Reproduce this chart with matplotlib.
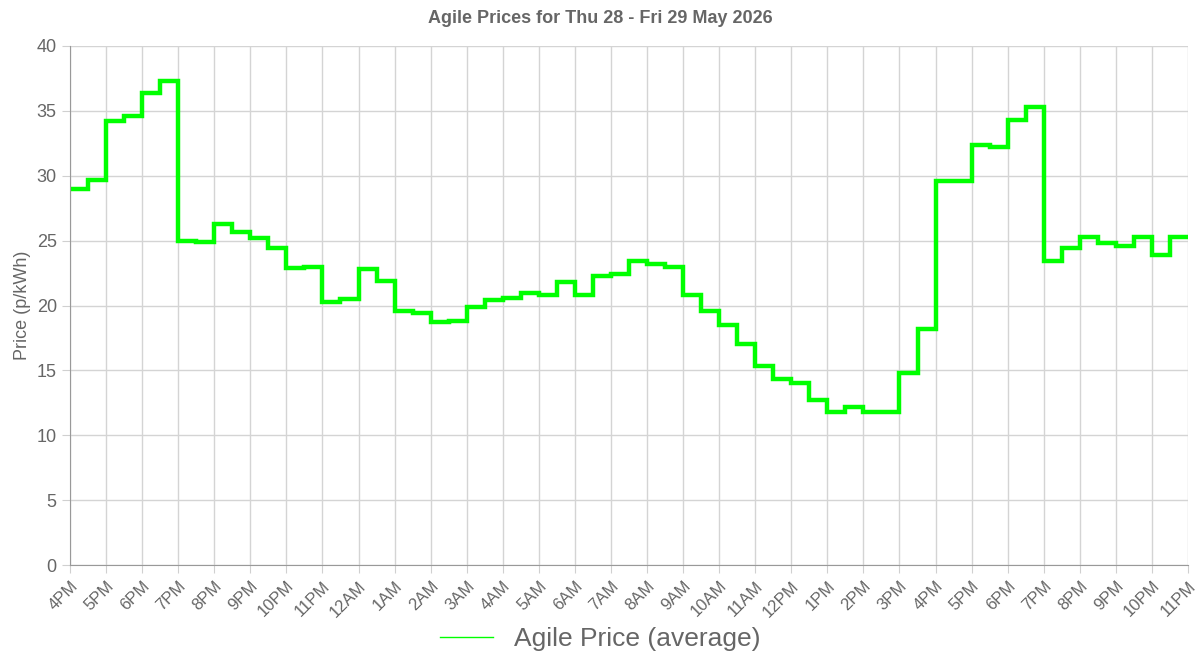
import matplotlib
matplotlib.use("Agg")
import matplotlib.pyplot as plt
import numpy as np

plt.rcParams['font.family'] = ['Liberation Sans', 'DejaVu Sans']

prices = [29.0, 29.7, 34.2, 34.6, 36.4, 37.3, 25.0, 24.9, 26.3, 25.7, 25.2, 24.4,
          22.9, 23.0, 20.3, 20.5, 22.8, 21.9, 19.6, 19.4, 18.7, 18.8, 19.9, 20.4,
          20.6, 21.0, 20.8, 21.8, 20.8, 22.3, 22.4, 23.4, 23.2, 23.0, 20.8, 19.6,
          18.5, 17.0, 15.3, 14.3, 14.0, 12.7, 11.8, 12.2, 11.8, 11.8, 14.8, 18.2,
          29.6, 29.6, 32.4, 32.2, 34.3, 35.3, 23.4, 24.4, 25.3, 24.8, 24.6, 25.3,
          23.9, 25.3]
tick_labels = ["4PM", "5PM", "6PM", "7PM", "8PM", "9PM", "10PM", "11PM", "12AM", "1AM",
               "2AM", "3AM", "4AM", "5AM", "6AM", "7AM", "8AM", "9AM", "10AM", "11AM",
               "12PM", "1PM", "2PM", "3PM", "4PM", "5PM", "6PM", "7PM", "8PM", "9PM",
               "10PM", "11PM"]

fig = plt.figure(figsize=(12, 6.67), dpi=100)
ax = fig.add_axes([70/1200, 1-565/667, (1188-70)/1200, (565-46)/667])
xs = np.arange(len(prices) + 1) * 0.5
ys = list(prices) + [prices[-1]]
ax.step(xs, ys, where="post", color="#00ff00", linewidth=3.2, solid_joinstyle="miter")
ax.set_xlim(0, 31)
ax.set_ylim(0, 40)
ax.set_xticks(np.arange(len(tick_labels)))
ax.set_xticklabels(tick_labels, rotation=45, ha="right", rotation_mode="anchor",
                   color="#666666", fontsize=12)
ax.set_yticks(np.arange(0, 41, 5))
ax.tick_params(axis="y", colors="#666666", labelsize=13)
ax.tick_params(axis="both", length=6, color="#d0d0d0")
ax.grid(True, color="#d4d4d4", linewidth=1)
for s in ["top", "right"]:
    ax.spines[s].set_visible(False)
ax.spines["left"].set_color("#999999")
ax.spines["bottom"].set_color("#999999")
ax.set_ylabel("Price (p/kWh)", color="#666666", fontsize=13)
fig.suptitle("Agile Prices for Thu 28 - Fri 29 May 2026", y=0.985, fontsize=13,
             fontweight="bold", color="#666666")
leg = fig.legend(handles=[plt.Line2D([], [], color="#00ff00", lw=1)],
                 labels=["Agile Price (average)"], loc="lower center",
                 bbox_to_anchor=(0.5, -0.012), frameon=False, fontsize=19,
                 handlelength=2.0)
for t in leg.get_texts():
    t.set_color("#666666")
fig.savefig("out.png", dpi=100)
